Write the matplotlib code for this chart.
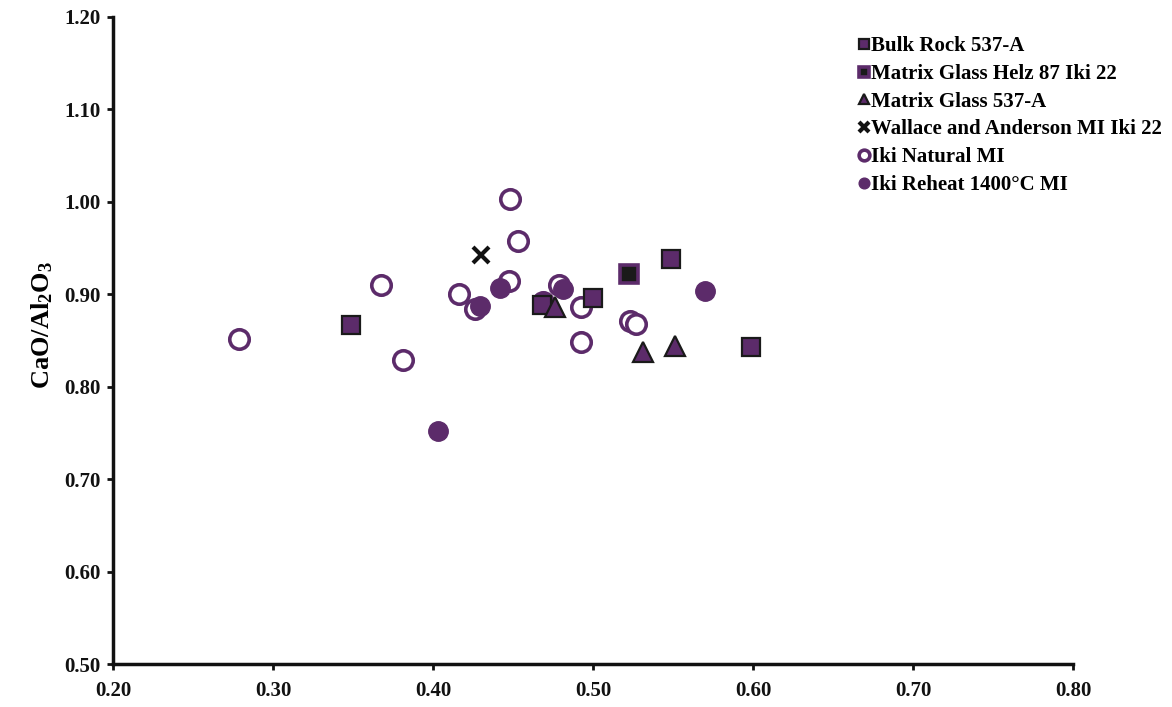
import matplotlib
matplotlib.use("Agg")
import matplotlib.pyplot as plt

plt.rcParams['font.family'] = ['Liberation Serif', 'DejaVu Serif']
plt.rcParams['font.weight'] = 'bold'
plt.rcParams['mathtext.fontset'] = 'custom'
plt.rcParams['mathtext.rm'] = 'Liberation Serif:bold'
plt.rcParams['mathtext.bf'] = 'Liberation Serif:bold'
plt.rcParams['mathtext.default'] = 'bf'

PURPLE = '#5C2B6A'

bulk_x = [0.349, 0.468, 0.500, 0.549, 0.599]
bulk_y = [0.867, 0.888, 0.896, 0.938, 0.843]

helz_x = [0.5225]
helz_y = [0.922]

mg_x = [0.476, 0.531, 0.551]
mg_y = [0.886, 0.838, 0.844]

wa_x = [0.430]
wa_y = [0.942]

nat_x = [0.279, 0.3675, 0.381, 0.416, 0.426, 0.448, 0.453, 0.4475, 0.469, 0.479, 0.4925, 0.4925, 0.523, 0.527]
nat_y = [0.852, 0.910, 0.829, 0.900, 0.884, 1.003, 0.958, 0.914, 0.892, 0.910, 0.886, 0.848, 0.871, 0.868]

reh_x = [0.403, 0.4295, 0.442, 0.468, 0.481, 0.570]
reh_y = [0.752, 0.887, 0.907, 0.892, 0.906, 0.904]

fig = plt.figure(figsize=(11.72, 7.07), dpi=100)
ax = fig.add_axes([0.0964, 0.0608, 0.8191, 0.9152])

ax.plot(nat_x, nat_y, 'o', ms=14, mfc='white', mec=PURPLE, mew=2.6, ls='none',
        label='Iki Natural MI', zorder=3)
ax.plot(reh_x, reh_y, 'o', ms=14, mfc=PURPLE, mec=PURPLE, mew=1, ls='none',
        label='Iki Reheat 1400°C MI', zorder=4)
ax.plot(bulk_x, bulk_y, 's', ms=13, mfc=PURPLE, mec='#1a1a1a', mew=1.6, ls='none',
        label='Bulk Rock 537-A', zorder=5)
ax.plot(helz_x, helz_y, 's', ms=13, mfc='#1a1a1a', mec=PURPLE, mew=2.6, ls='none',
        label='Matrix Glass Helz 87 Iki 22', zorder=5)
ax.plot(mg_x, mg_y, '^', ms=14, mfc=PURPLE, mec='#1a1a1a', mew=1.6, ls='none',
        label='Matrix Glass 537-A', zorder=5)
ax.plot(wa_x, wa_y, 'x', ms=12, mec='#111111', mew=3, ls='none',
        label='Wallace and Anderson MI Iki 22', zorder=5)

ax.set_xlim(0.2, 0.8)
ax.set_ylim(0.5, 1.2)
ax.set_xticks([0.2, 0.3, 0.4, 0.5, 0.6, 0.7, 0.8])
ax.set_yticks([0.5, 0.6, 0.7, 0.8, 0.9, 1.0, 1.1, 1.2])
ax.set_xticklabels(['%.2f' % v for v in ax.get_xticks()])
ax.set_yticklabels(['%.2f' % v for v in ax.get_yticks()])
for lab in ax.get_xticklabels() + ax.get_yticklabels():
    lab.set_fontweight('bold')
    lab.set_fontsize(15)
ax.tick_params(direction='out', length=4, width=2, colors='#111111', pad=5)
ax.tick_params(axis='x', pad=8)
ax.spines['top'].set_visible(False)
ax.spines['right'].set_visible(False)
ax.spines['left'].set_linewidth(2.5)
ax.spines['bottom'].set_linewidth(2.5)
ax.spines['left'].set_color('#111111')
ax.spines['bottom'].set_color('#111111')

ax.set_ylabel('CaO/Al$_2$O$_3$', fontsize=19, fontweight='bold')
ax.yaxis.set_label_coords(-0.060, 0.524)

handles, labels = ax.get_legend_handles_labels()
order = ['Bulk Rock 537-A', 'Matrix Glass Helz 87 Iki 22', 'Matrix Glass 537-A',
         'Wallace and Anderson MI Iki 22', 'Iki Natural MI', 'Iki Reheat 1400°C MI']
hmap = dict(zip(labels, handles))
leg = ax.legend([hmap[l] for l in order], order, loc='upper left',
                bbox_to_anchor=(0.768, 0.983), frameon=False, markerscale=0.55,
                handlelength=0.5, handletextpad=0.1, labelspacing=0.37,
                borderaxespad=0.0,
                prop={'family': 'Liberation Serif', 'weight': 'bold', 'size': 15})

fig.savefig('out.png', dpi=100)
